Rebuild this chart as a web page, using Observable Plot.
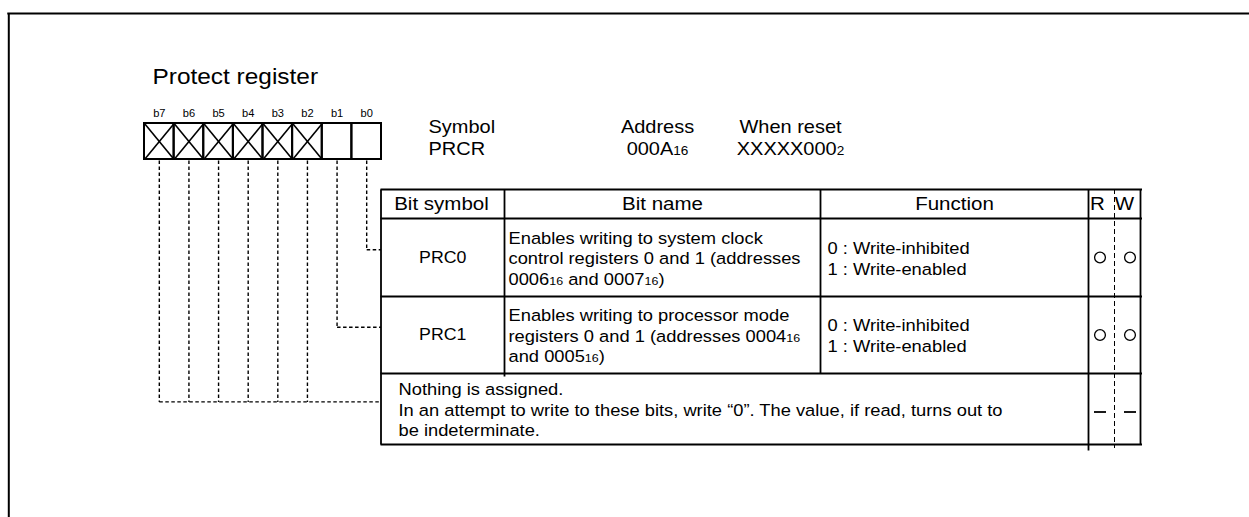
<!DOCTYPE html>
<html><head><meta charset="utf-8">
<script src="https://cdn.jsdelivr.net/npm/d3@7"></script>
<script src="https://cdn.jsdelivr.net/npm/@observablehq/plot@0.6"></script>
<style>html,body{margin:0;padding:0;background:#fff;} #chart{width:1249px;height:517px;overflow:hidden}</style>
</head><body><div id="chart"></div>
<script>
// ---------- data ----------
const title = "Protect register";
const bits = ["b7", "b6", "b5", "b4", "b3", "b2", "b1", "b0"];
const reservedBits = ["b7", "b6", "b5", "b4", "b3", "b2"];
const infoLabels = ["Symbol", "Address", "When reset"];
const infoValues = ["PRCR", "000A_{16}", "XXXXX000_{2}"];
const columnHeaders = ["Bit symbol", "Bit name", "Function", "R", "W"];
const bitSymbols = ["PRC0", "PRC1"];
const bitNames = [
  "Enables writing to system clock\ncontrol registers 0 and 1 (addresses\n0006_{16} and 0007_{16})",
  "Enables writing to processor mode\nregisters 0 and 1 (addresses 0004_{16}\nand 0005_{16})"
];
const functions = [
  "0 : Write-inhibited\n1 : Write-enabled",
  "0 : Write-inhibited\n1 : Write-enabled"
];
const reservedNote = "Nothing is assigned.\nIn an attempt to write to these bits, write \u201c0\u201d. The value, if read, turns out to\nbe indeterminate.";
const rowBits = [["b0"], ["b1"], ["b2", "b3", "b4", "b5", "b6", "b7"]];
const readAccess = ["O", "O", "-"];
const writeAccess = ["O", "O", "-"];

// ---------- layout ----------
const W = 1249, H = 517;
const STRETCH = 1.11;
const frame = {x: 8.3, y: 13};
const reg = {x0: 144, x1: 381, y0: 123, y1: 159, labelY: 113};
const titlePos = {x: 152, y: 76};
const info = {symbolX: 428, centers: [657, 790], y: 136.5};
const tbl = {cols: [380.5, 504, 820, 1088, 1114, 1140], rows: [189, 218, 296, 373, 444]};
const headerX = [441, 662, 954, 1097, 1124];
const accessX = [1099.5, 1129.5];
const textPad = {name: 508, fn: 827, note: 398};
const font = "'Liberation Sans', Arial, Helvetica, sans-serif";

const band = d3.scaleBand().domain(bits).range([reg.x0, reg.x1]);
const bl = b => band(b), br = b => band(b) + band.bandwidth(), bx = b => band(b) + band.bandwidth() / 2;
const rowCenter = i => (tbl.rows[i + 1] + tbl.rows[i + 2]) / 2; // i = 0..2 body rows
const leaderY = i => tbl.rows[i + 1] + 0.4 * (tbl.rows[i + 2] - tbl.rows[i + 1]);

// leader segments (dotted)
const leaders = [];
rowBits.forEach((bs, i) => {
  const ly = leaderY(i);
  bs.forEach(b => leaders.push({x1: bx(b), y1: reg.y1 + 1, x2: bx(b), y2: ly}));
  leaders.push({x1: d3.min(bs, bx), y1: ly, x2: tbl.cols[0], y2: ly});
});

// table body rows
const bodyRows = bitSymbols.map((s, i) => ({symbol: s, name: bitNames[i], fn: functions[i], y: rowCenter(i)}));

// access marks
const access = [];
[readAccess, writeAccess].forEach((arr, c) => arr.forEach((v, r) => access.push({x: accessX[c], y: rowCenter(r), v})));

const solid = [
  {x: tbl.cols[0], y1: tbl.rows[0], y2: tbl.rows[4]},
  {x: tbl.cols[1], y1: tbl.rows[0], y2: tbl.rows[3] + 3},
  {x: tbl.cols[2], y1: tbl.rows[0], y2: tbl.rows[3]},
  {x: tbl.cols[3], y1: tbl.rows[0], y2: tbl.rows[4] + 6},
  {x: tbl.cols[5], y1: tbl.rows[0], y2: tbl.rows[4]}
];

const chart = Plot.plot({
  width: W, height: H, margin: 0,
  x: {domain: [0, W], range: [0, W], axis: null},
  y: {domain: [0, H], range: [0, H], axis: null},
  style: {fontFamily: font, background: "#fff", color: "#000", overflow: "hidden"},
  marks: [
    // outer frame
    Plot.ruleY([frame.y], {x1: frame.x - 1, x2: W, stroke: "#000", strokeWidth: 2}),
    Plot.ruleX([frame.x], {y1: frame.y, y2: H, stroke: "#000", strokeWidth: 2}),
    // title
    Plot.text([title], {x: titlePos.x, y: titlePos.y, text: d => d, textAnchor: "start", fontSize: 22}),
    // bit labels
    Plot.text(bits, {x: bx, y: reg.labelY, text: d => d, fontSize: 10, fill: "#000"}),
    // register boxes
    Plot.rect(bits, {x1: bl, x2: br, y1: reg.y0, y2: reg.y1, fill: "none", stroke: "#000", strokeWidth: 2}),
    Plot.link(reservedBits, {x1: bl, y1: reg.y0, x2: br, y2: reg.y1, stroke: "#000", strokeWidth: 1.6}),
    Plot.link(reservedBits, {x1: bl, y1: reg.y1, x2: br, y2: reg.y0, stroke: "#000", strokeWidth: 1.6}),
    // info header
    Plot.text([infoLabels[0] + "\n" + infoValues[0]], {x: info.symbolX, y: info.y, text: d => d, textAnchor: "start", lineAnchor: "middle", lineHeight: 1.22, fontSize: 18}),
    Plot.text([1, 2], {x: i => info.centers[i - 1], y: info.y, text: i => infoLabels[i] + "\n" + infoValues[i], lineAnchor: "middle", lineHeight: 1.22, fontSize: 18}),
    // leaders
    Plot.link(leaders, {x1: "x1", y1: "y1", x2: "x2", y2: "y2", stroke: "#000", strokeWidth: 1.4, strokeDasharray: "3.5,2.5"}),
    // table grid
    Plot.ruleY(tbl.rows, {x1: tbl.cols[0], x2: tbl.cols[5] + 2, stroke: "#000", strokeWidth: 1.8}),
    Plot.link(solid, {x1: "x", x2: "x", y1: "y1", y2: "y2", stroke: "#000", strokeWidth: 1.8}),
    Plot.ruleX([tbl.cols[4]], {y1: tbl.rows[0], y2: tbl.rows[4] + 4, stroke: "#000", strokeWidth: 1, strokeDasharray: "5,3"}),
    // column headers
    Plot.text(columnHeaders, {x: (d, i) => headerX[i], y: (tbl.rows[0] + tbl.rows[1]) / 2, text: d => d, fontSize: 18.5}),
    // body rows
    Plot.text(bodyRows, {x: (tbl.cols[0] + tbl.cols[1]) / 2, y: "y", text: "symbol", fontSize: 16}),
    Plot.text(bodyRows, {x: textPad.name, y: "y", text: "name", textAnchor: "start", lineAnchor: "middle", lineHeight: 1.24, fontSize: 16.5}),
    Plot.text(bodyRows, {x: textPad.fn, y: "y", text: "fn", textAnchor: "start", lineAnchor: "middle", lineHeight: 1.27, fontSize: 16.5}),
    Plot.text([reservedNote], {x: textPad.note, y: rowCenter(2), text: d => d, textAnchor: "start", lineAnchor: "middle", lineHeight: 1.24, fontSize: 16.5}),
    // access
    Plot.dot(access.filter(d => d.v === "O"), {x: "x", y: "y", r: 5.4, stroke: "#000", strokeWidth: 1.3, fill: "none"}),
    Plot.link(access.filter(d => d.v === "-"), {x1: d => d.x - 6, x2: d => d.x + 6, y1: d => d.y + 3, y2: d => d.y + 3, stroke: "#000", strokeWidth: 1.8})
  ]
});

// subscripts: "_{..}" -> smaller tspan on the same baseline
chart.querySelectorAll("text, tspan").forEach(node => {
  if (node.childElementCount > 0) return;
  const s = node.textContent;
  if (!s.includes("_{")) return;
  node.textContent = "";
  const re = /_\{([^}]*)\}/g;
  let last = 0, m;
  while ((m = re.exec(s))) {
    if (m.index > last) node.appendChild(document.createTextNode(s.slice(last, m.index)));
    const t = document.createElementNS("http://www.w3.org/2000/svg", "tspan");
    t.style.fontSize = "68%";
    t.textContent = m[1];
    node.appendChild(t);
    last = re.lastIndex;
  }
  if (last < s.length) node.appendChild(document.createTextNode(s.slice(last)));
});
// slight horizontal stretch of the lettering
chart.querySelectorAll("text").forEach(t => {
  const tr = t.getAttribute("transform");
  if (tr && tr.includes("translate")) t.setAttribute("transform", tr + ` scale(${STRETCH},1)`);
});

document.getElementById("chart").appendChild(chart);
</script></body></html>
